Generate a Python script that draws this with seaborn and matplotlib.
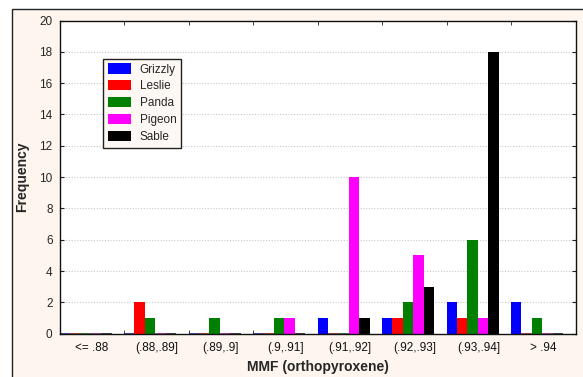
import matplotlib
matplotlib.use("Agg")
import matplotlib.pyplot as plt
from matplotlib.patches import Rectangle
import numpy as np
import pandas as pd
import seaborn as sns

categories = ["<= .88", "(.88,.89]", "(.89,.9]", "(.9,.91]", "(.91,.92]",
              "(.92,.93]", "(.93,.94]", "> .94"]
grizzly = [0, 0, 0, 0, 1, 1, 2, 2]
leslie = [0, 2, 0, 0, 0, 1, 1, 0]
panda = [0, 1, 1, 1, 0, 2, 6, 1]
pigeon = [0, 0, 0, 1, 10, 5, 1, 0]
sable = [0, 0, 0, 0, 1, 3, 18, 0]
series_names = ["Grizzly", "Leslie", "Panda", "Pigeon", "Sable"]
series_colors = ["#0000ff", "#ff0000", "#008000", "#ff00ff", "#000000"]
y_ticks = list(range(0, 21, 2))

rows = []
for name, vals in zip(series_names, [grizzly, leslie, panda, pigeon, sable]):
    for cat, v in zip(categories, vals):
        rows.append({"bin": cat, "rock": name, "count": v})
df = pd.DataFrame(rows)

sns.set_style("white")
plt.rcParams["font.family"] = ["Liberation Sans", "DejaVu Sans"]

fig = plt.figure(figsize=(5.83, 3.77), dpi=100, facecolor="white")
# cream panel behind the plot
panel = Rectangle((12 / 583, -0.05), 1.0, (377 - 9) / 377 + 0.05,
                  transform=fig.transFigure, facecolor="#fdf5ee",
                  edgecolor="#222222", linewidth=1.0, zorder=-10)
fig.patches.append(panel)

ax = fig.add_axes([59.5 / 583, 1 - 333.7 / 377, 516 / 583, 313.2 / 377])
ax.set_facecolor("white")

group_w = 0.81
sns.barplot(data=df, x="bin", y="count", hue="rock", order=categories,
            hue_order=series_names, palette=series_colors, width=group_w,
            linewidth=0, saturation=1, ax=ax, legend=True)

# zero counts show as a thin dark stroke on the baseline
for p in ax.patches:
    if p.get_height() == 0 and p.get_width() > 0:
        fc = np.array(p.get_facecolor()[:3])
        p.set_edgecolor(tuple(fc * 0.45 + 0.15))
        p.set_linewidth(1.2)

n = len(categories)
left = -group_w / 2
ax.set_xlim(left, n - 1 + (1 - group_w / 2))
ax.set_ylim(0, 20)
ax.set_yticks(y_ticks)
ax.set_yticklabels([str(t) for t in y_ticks], fontsize=8.5)
centers = np.arange(n) + left + 0.5
ax.set_xticks(centers)
ax.set_xticklabels(categories, fontsize=8.5, color="#111111")
ax.set_xticks(np.arange(n + 1) + left, minor=True)
ax.tick_params(axis="x", which="major", length=0, pad=6)
ax.tick_params(axis="x", which="minor", length=3, direction="in",
               top=True, bottom=True, color="#222222")
ax.tick_params(axis="y", which="major", length=3, direction="in",
               left=True, right=True, pad=5, color="#222222")
ax.yaxis.grid(True, linestyle=(0, (1, 1.5)), color="#c8c8c8", linewidth=0.8)
ax.set_axisbelow(True)
for s in ax.spines.values():
    s.set_visible(True)
    s.set_color("#111111")
    s.set_linewidth(1.0)

ax.set_xlabel("MMF (orthopyroxene)", fontsize=10, fontweight="bold", labelpad=4)
ax.set_ylabel("Frequency", fontsize=10, fontweight="bold", labelpad=7)

handles, labels = ax.get_legend_handles_labels()
leg = ax.legend(handles, labels, loc="upper left",
                bbox_to_anchor=((103 - 59.5) / 516, (334 - 59) / 313.2),
                fontsize=8.5, frameon=True, fancybox=False, shadow=False,
                framealpha=1, edgecolor="#222222", facecolor="#fdf8f3",
                handlelength=2.0, handleheight=0.95, handletextpad=0.7,
                labelspacing=0.4, borderpad=0.4, borderaxespad=0)
leg.get_frame().set_linewidth(1.0)

fig.savefig("out.png", dpi=100, facecolor=fig.get_facecolor())
